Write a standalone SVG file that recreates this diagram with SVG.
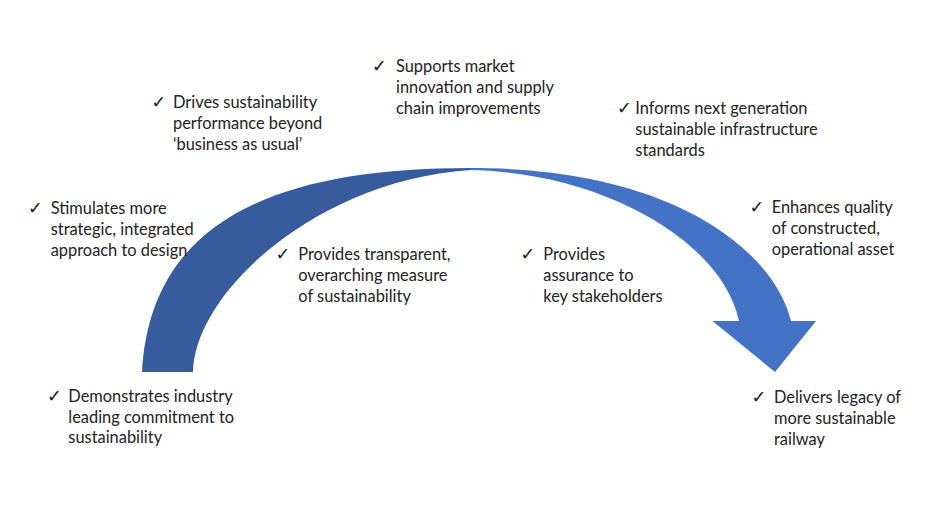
<svg xmlns="http://www.w3.org/2000/svg" width="939" height="527" viewBox="0 0 939 527">
<style>
.t{font-family:Lato,"Open Sans","Liberation Sans",sans-serif;font-size:16.4px;fill:#222222}
.c{font-family:"DejaVu Sans",sans-serif;font-size:17.5px;fill:#222222}
.back{fill:#365C9E}
.front{fill:#4472C4}
</style>
<rect width="939" height="527" fill="#ffffff"/>
<g id="connectors">
<path class="back" d="M142,372 C150,230 260,168 470,168 L470,170 C320,180 195,290 193,372 Z"/>
<path class="front" d="M470,168 C680,168 775,255 791,321 L816,321 L775,372 L712.5,321 L739,321 C722,240 600,172 470,170 Z"/>
</g>
<g id="n-stimulates">
<text class="c" x="28" y="214">✓</text>
<text class="t" x="50.7" y="214">Stimulates more</text>
<text class="t" x="50.7" y="234.8">strategic, integrated</text>
<text class="t" x="50.7" y="255.6">approach to design</text>
</g>
<g id="n-drives">
<text class="c" x="151.5" y="108.3">✓</text>
<text class="t" x="173" y="108.3">Drives sustainability</text>
<text class="t" x="173" y="129.1">performance beyond</text>
<text class="t" x="173" y="149.9">‘business as usual’</text>
</g>
<g id="n-supports">
<text class="c" x="372" y="72.3">✓</text>
<text class="t" x="396" y="72.3">Supports market</text>
<text class="t" x="396" y="93.1">innovation and supply</text>
<text class="t" x="396" y="113.9">chain improvements</text>
</g>
<g id="n-informs">
<text class="c" x="617" y="114">✓</text>
<text class="t" x="635.3" y="114">Informs next generation</text>
<text class="t" x="635.3" y="134.8">sustainable infrastructure</text>
<text class="t" x="635.3" y="155.6">standards</text>
</g>
<g id="n-enhances">
<text class="c" x="749.5" y="213.3">✓</text>
<text class="t" x="771.7" y="213.3">Enhances quality</text>
<text class="t" x="771.7" y="234.1">of constructed,</text>
<text class="t" x="771.7" y="254.9">operational asset</text>
</g>
<g id="n-transparent">
<text class="c" x="275.5" y="260">✓</text>
<text class="t" x="298.3" y="260">Provides transparent,</text>
<text class="t" x="298.3" y="280.8">overarching measure</text>
<text class="t" x="298.3" y="301.6">of sustainability</text>
</g>
<g id="n-assurance">
<text class="c" x="520.5" y="260">✓</text>
<text class="t" x="543.3" y="260">Provides</text>
<text class="t" x="543.3" y="280.8">assurance to</text>
<text class="t" x="543.3" y="301.6">key stakeholders</text>
</g>
<g id="n-demonstrates">
<text class="c" x="47" y="401.7">✓</text>
<text class="t" x="68.3" y="401.7">Demonstrates industry</text>
<text class="t" x="68.3" y="422.5">leading commitment to</text>
<text class="t" x="68.3" y="443.3">sustainability</text>
</g>
<g id="n-delivers">
<text class="c" x="751.5" y="403.3">✓</text>
<text class="t" x="774" y="403.3">Delivers legacy of</text>
<text class="t" x="774" y="424.1">more sustainable</text>
<text class="t" x="774" y="444.9">railway</text>
</g>
</svg>
